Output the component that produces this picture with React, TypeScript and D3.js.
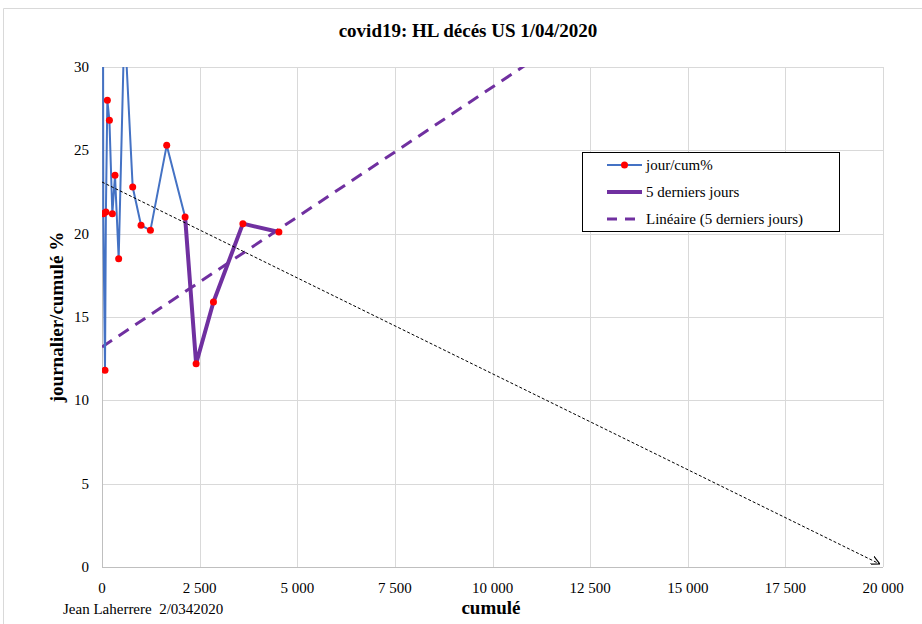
import * as d3 from "d3";
import { useEffect, useRef } from "react";

// cumulative deaths (x) and daily / cumulative % (y)
const cumule = [10, 20, 33, 77, 100, 137, 190, 265, 333, 427, 575, 786, 1000, 1240, 1657, 2128, 2410, 2854, 3608, 4530];
const jourCum = [60, 45, 21.2, 11.8, 21.3, 28.0, 26.8, 21.2, 23.5, 18.5, 32.7, 22.8, 20.5, 20.2, 25.3, 21.0, 12.2, 15.9, 20.6, 20.1];
// how many of the last points form the "5 derniers jours" series
const lastDays = 5;

// linear trend of the last five days
const trendIntercept = 13.2;
const trendSlope = 0.00156;

// hand drawn HL projection (dotted arrow)
const projStart = [0, 23.1];
const projEnd = [19900, 0.2];

const xTicks = [0, 2500, 5000, 7500, 10000, 12500, 15000, 17500, 20000];
const yTicks = [0, 5, 10, 15, 20, 25, 30];

const legendLabels = ["jour/cum%", "5 derniers jours", "Linéaire (5 derniers jours)"];

const BLUE = "#4472C4";
const PURPLE = "#7030A0";
const RED = "#FF0000";
const GRID = "#d9d9d9";
const FONT = "Liberation Serif";

const App = () => {
	const svgRef = useRef<SVGSVGElement | null>(null);

	useEffect(() => {
		const width = 922;
		const height = 624;
		const margin = { top: 67, right: 39, bottom: 57, left: 102 };
		const svg = d3.select(svgRef.current);
		svg.selectAll("*").remove();
		svg.attr("width", width).attr("height", height);

		const xScale = d3.scaleLinear().domain([0, 20000]).range([margin.left, width - margin.right]);
		const yScale = d3.scaleLinear().domain([0, 30]).range([height - margin.bottom, margin.top]);

		//outer chart frame
		svg.append("rect").attr("width", width).attr("height", height).attr("fill", "white");
		svg.append("path")
			.attr("d", `M3.5,${height} V8.5 H${width}`)
			.attr("fill", "none")
			.attr("stroke", GRID);

		//grid
		const grid = svg.append("g");
		grid.selectAll("line.h")
			.data(yTicks)
			.enter()
			.append("line")
			.attr("x1", xScale(0))
			.attr("x2", xScale(20000))
			.attr("y1", (d) => Math.round(yScale(d)) + 0.5)
			.attr("y2", (d) => Math.round(yScale(d)) + 0.5)
			.attr("stroke", (d) => (d === 0 ? "#bfbfbf" : GRID));
		grid.selectAll("line.v")
			.data(xTicks)
			.enter()
			.append("line")
			.attr("x1", (d) => Math.round(xScale(d)) + 0.5)
			.attr("x2", (d) => Math.round(xScale(d)) + 0.5)
			.attr("y1", yScale(0))
			.attr("y2", yScale(30))
			.attr("stroke", (d) => (d === 0 ? "#bfbfbf" : GRID));

		//tick labels
		svg.append("g")
			.selectAll("text")
			.data(yTicks)
			.enter()
			.append("text")
			.attr("x", xScale(0) - 13)
			.attr("y", (d) => yScale(d) + 5)
			.attr("text-anchor", "end")
			.style("font-family", FONT)
			.attr("font-size", 15)
			.text((d) => d);
		const fmt = (d: number) => d3.format(",")(d).replace(",", " ");
		svg.append("g")
			.selectAll("text")
			.data(xTicks)
			.enter()
			.append("text")
			.attr("x", (d) => xScale(d))
			.attr("y", yScale(0) + 26)
			.attr("text-anchor", "middle")
			.style("font-family", FONT)
			.attr("font-size", 15)
			.text((d) => fmt(d));

		//clip for the plot area
		svg.append("clipPath")
			.attr("id", "plot-clip")
			.append("rect")
			.attr("x", xScale(0))
			.attr("y", yScale(30))
			.attr("width", xScale(20000) - xScale(0))
			.attr("height", yScale(0) - yScale(30));

		const plot = svg.append("g").attr("clip-path", "url(#plot-clip)");
		const points = cumule.map((c, i) => [c, jourCum[i]] as [number, number]);
		const line = d3
			.line<[number, number]>()
			.x((d) => xScale(d[0]))
			.y((d) => yScale(d[1]));

		//projection dotted arrow
		svg.append("defs")
			.append("marker")
			.attr("id", "arrow")
			.attr("viewBox", "0 0 10 10")
			.attr("refX", 9)
			.attr("refY", 5)
			.attr("markerWidth", 9)
			.attr("markerHeight", 9)
			.attr("markerUnits", "userSpaceOnUse")
			.attr("orient", "auto")
			.append("path")
			.attr("d", "M0,0 L10,5 L0,10")
			.attr("fill", "none")
			.attr("stroke", "#000")
			.attr("stroke-width", 1.2);
		svg.append("line")
			.attr("x1", xScale(projStart[0]))
			.attr("y1", yScale(projStart[1]))
			.attr("x2", xScale(projEnd[0]))
			.attr("y2", yScale(projEnd[1]))
			.attr("stroke", "#000")
			.attr("stroke-width", 1)
			.attr("stroke-dasharray", "3,2")
			.attr("marker-end", "url(#arrow)");

		//trend line
		plot.append("line")
			.attr("x1", xScale(0))
			.attr("y1", yScale(trendIntercept))
			.attr("x2", xScale(20000))
			.attr("y2", yScale(trendIntercept + trendSlope * 20000))
			.attr("stroke", PURPLE)
			.attr("stroke-width", 3)
			.attr("stroke-dasharray", "12,8");

		//jour/cum% series
		plot.append("path")
			.attr("d", line(points))
			.attr("fill", "none")
			.attr("stroke", BLUE)
			.attr("stroke-width", 2);

		//5 last days
		plot.append("path")
			.attr("d", line(points.slice(-lastDays)))
			.attr("fill", "none")
			.attr("stroke", PURPLE)
			.attr("stroke-width", 4)
			.attr("stroke-linejoin", "round");

		plot.selectAll("circle")
			.data(points)
			.enter()
			.append("circle")
			.attr("cx", (d) => xScale(d[0]))
			.attr("cy", (d) => yScale(d[1]))
			.attr("r", 3.5)
			.attr("fill", RED);

		//legend
		const legend = svg.append("g").attr("transform", "translate(582,152)");
		legend.append("rect")
			.attr("x", 0.5)
			.attr("y", 0.5)
			.attr("width", 257)
			.attr("height", 79)
			.attr("fill", "white")
			.attr("stroke", "#000");
		const rows = [13, 40, 67];
		legendLabels.forEach((label, i) => {
			const g = legend.append("g").attr("transform", `translate(0,${rows[i]})`);
			const l = g.append("line").attr("x1", 25).attr("x2", 60).attr("y1", 0).attr("y2", 0);
			if (i === 0) {
				l.attr("stroke", BLUE).attr("stroke-width", 2);
				g.append("circle").attr("cx", 42.5).attr("cy", 0).attr("r", 3.5).attr("fill", RED);
			} else if (i === 1) {
				l.attr("stroke", PURPLE).attr("stroke-width", 4);
			} else {
				l.attr("stroke", PURPLE).attr("stroke-width", 3).attr("stroke-dasharray", "10,8");
			}
			g.append("text")
				.attr("x", 64)
				.attr("y", 5)
				.style("font-family", FONT)
				.attr("font-size", 15)
				.text(label);
		});

		//titles
		svg.append("text")
			.attr("x", 468)
			.attr("y", 37)
			.attr("text-anchor", "middle")
			.style("font-family", FONT)
			.attr("font-weight", "bold")
			.attr("font-size", 19)
			.text("covid19: HL décés US 1/04/2020");
		svg.append("text")
			.attr("transform", `translate(63,${(yScale(0) + yScale(30)) / 2}) rotate(-90)`)
			.attr("text-anchor", "middle")
			.style("font-family", FONT)
			.attr("font-weight", "bold")
			.attr("font-size", 19)
			.text("journalier/cumulé %");
		svg.append("text")
			.attr("x", 491)
			.attr("y", 614)
			.attr("text-anchor", "middle")
			.style("font-family", FONT)
			.attr("font-weight", "bold")
			.attr("font-size", 19)
			.text("cumulé");
		svg.append("text")
			.attr("x", 63)
			.attr("y", 614)
			.style("font-family", FONT)
			.style("white-space", "pre")
			.attr("font-size", 15)
			.text("Jean Laherrere  2/0342020");
	}, []);

	return <svg ref={svgRef} style={{ position: "absolute", left: 0, top: 0 }} />;
};

export default App;
